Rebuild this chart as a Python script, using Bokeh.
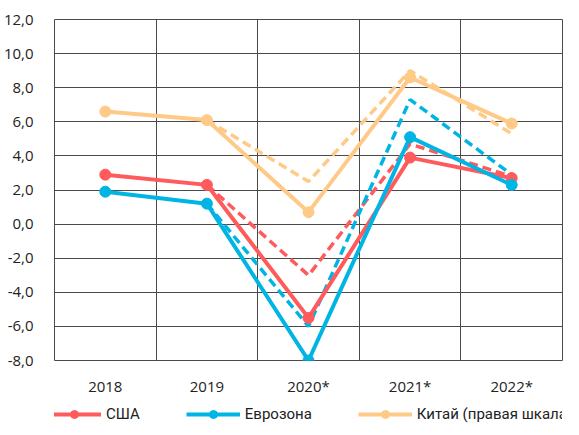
from bokeh.plotting import figure
from bokeh.layouts import column
from bokeh.models import FixedTicker, Grid, Legend, LegendItem, Range1d
from bokeh.embed import file_html
from bokeh.resources import INLINE

years = ["2018", "2019", "2020*", "2021*", "2022*"]
usa = [2.9, 2.3, -5.5, 3.9, 2.7]
euro = [1.9, 1.2, -8.0, 5.1, 2.3]
china = [6.6, 6.1, 0.7, 8.6, 5.9]
# previous forecasts (dashed), from 2019 onwards
usa_prev = [2.3, -3.0, 4.7, 2.8]
euro_prev = [1.2, -6.0, 7.3, 2.9]
china_prev = [6.1, 2.5, 9.0, 5.3]
y_ticks = [-8, -6, -4, -2, 0, 2, 4, 6, 8, 10, 12]
series_names = ["США", "Еврозона", "Китай (правая шкала)"]

RED = "#FF5A5C"
BLUE = "#00B5E4"
YEL = "#FFCA87"
GRID = "#4a4a4a"
FONT = "Open Sans"

xs = [i + 0.5 for i in range(len(years))]
xs_prev = xs[1:]

p = figure(frame_width=508, frame_height=341, output_backend="svg",
           toolbar_location=None, x_range=Range1d(0, len(years)),
           y_range=Range1d(y_ticks[0], y_ticks[-1]),
           min_border_left=47, min_border_right=16, min_border_top=19,
           min_border_bottom=40)
p.outline_line_color = GRID
p.outline_line_width = 1
p.background_fill_color = "white"
p.border_fill_color = "white"

p.xgrid.visible = False
p.ygrid.ticker = FixedTicker(ticks=y_ticks)
p.ygrid.grid_line_color = GRID
p.ygrid.grid_line_width = 1
vgrid = Grid(dimension=0, ticker=FixedTicker(ticks=list(range(len(years) + 1))),
             grid_line_color=GRID, grid_line_width=1)
p.add_layout(vgrid)

p.xaxis.ticker = FixedTicker(ticks=xs)
p.xaxis.major_label_overrides = {x: y for x, y in zip(xs, years)}
p.yaxis.ticker = FixedTicker(ticks=y_ticks)
p.yaxis.major_label_overrides = {t: f"{t:.1f}".replace(".", ",") for t in y_ticks}
for ax in (p.xaxis, p.yaxis):
    ax.axis_line_color = None
    ax.major_tick_line_color = None
    ax.minor_tick_line_color = None
    ax.major_label_text_font = FONT
    ax.major_label_text_font_size = "15px"
    ax.major_label_text_color = "#222222"
p.xaxis.major_label_standoff = 9
p.yaxis.major_label_standoff = 15

dash = "9 5"
for vals, col in ((china_prev, YEL), (usa_prev, RED), (euro_prev, BLUE)):
    p.line(xs_prev, vals, line_color=col, line_width=3.5, line_dash=dash)

for vals, col in ((china, YEL), (usa, RED), (euro, BLUE)):
    p.line(xs, vals, line_color=col, line_width=4)
    p.scatter(xs, vals, size=11, fill_color=col, line_color=col)

# legend strip below the chart (its glyph copies lie outside its own ranges)
q = figure(frame_width=508, frame_height=30, output_backend="svg", toolbar_location=None,
           x_range=Range1d(-20, -19), y_range=Range1d(-20, -19),
           min_border_left=47, min_border_right=16,
           min_border_top=0, min_border_bottom=0)
q.axis.visible = False
q.grid.visible = False
q.outline_line_color = None
q.background_fill_color = "white"
q.border_fill_color = "white"

items = []
for name, vals, col in zip(series_names, (usa, euro, china), (RED, BLUE, YEL)):
    l = q.line(xs, vals, line_color=col, line_width=4)
    c = q.scatter(xs, vals, size=11, fill_color=col, line_color=col)
    items.append(LegendItem(label=name, renderers=[l, c]))

legend = Legend(items=items, orientation="horizontal", location=(-7, 6),
                glyph_width=54, glyph_height=20, label_standoff=5, spacing=46,
                padding=0, margin=0, border_line_color=None,
                background_fill_alpha=0, label_text_font="Roboto",
                label_text_font_size="15px", label_text_color="#222222")
q.add_layout(legend, "center")

layout = column(p, q, spacing=0)
open("out.html", "w").write(file_html(layout, INLINE))
